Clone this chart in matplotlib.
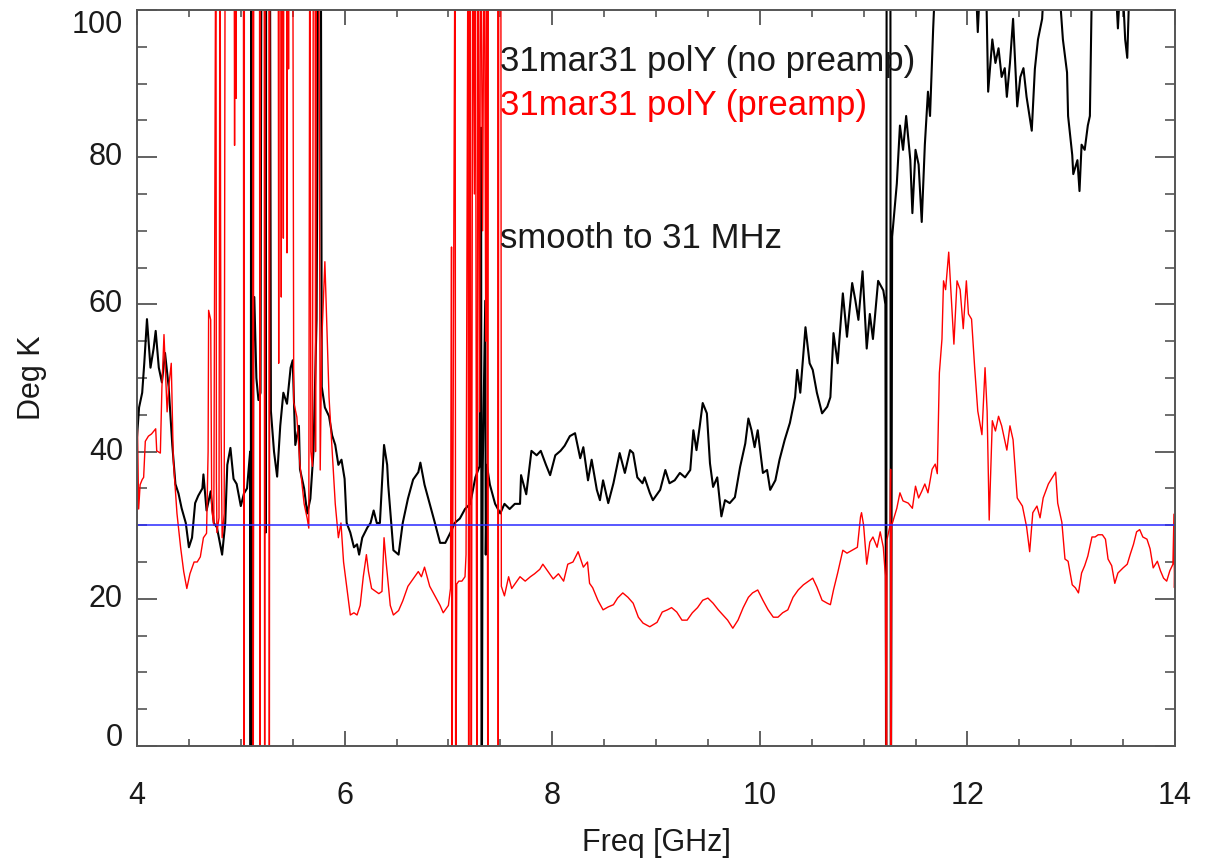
import matplotlib
matplotlib.use('Agg')
import matplotlib.pyplot as plt
from matplotlib.ticker import MultipleLocator

plt.rcParams['font.family'] = ['Liberation Sans', 'DejaVu Sans']

# 31mar31 polY, no preamp (GHz, K); values beyond the frame are RFI spikes
nopre = [
    (4.00, 42), (4.02, 46), (4.05, 48), (4.07, 52), (4.096, 58), (4.13, 51.4), (4.16, 54),
    (4.18, 56.4), (4.21, 51.4), (4.24, 49.4), (4.27, 53.4), (4.305, 48.8), (4.34, 40.9),
    (4.37, 35.6), (4.40, 34.3), (4.43, 32.3), (4.47, 30.3), (4.50, 27.0), (4.53, 28.3),
    (4.56, 33), (4.59, 34), (4.63, 35), (4.64, 36.9), (4.67, 32), (4.71, 34.6), (4.74, 30.3),
    (4.77, 29.7), (4.82, 26), (4.85, 30.3), (4.87, 38.2), (4.90, 40.5), (4.93, 36.3),
    (4.96, 35.6), (5.00, 32.6), (5.03, 34.3), (5.06, 35), (5.09, 40), (5.095, -20),
    (5.10, 120), (5.105, 44), (5.115, -20), (5.12, 55), (5.13, 61), (5.15, 50), (5.17, 47),
    (5.19, 48), (5.20, 120), (5.235, 120), (5.24, 29), (5.245, 120), (5.28, 120),
    (5.29, 45.5), (5.32, 40), (5.35, 36.6), (5.38, 43.5), (5.41, 48), (5.445, 46.5),
    (5.48, 51.4), (5.50, 52.4), (5.525, 40.9), (5.56, 43.5), (5.57, 37.6), (5.61, 35),
    (5.64, 31.6), (5.67, 33.6), (5.70, 40), (5.73, 58), (5.75, 120), (5.77, 120),
    (5.78, 48.8), (5.81, 46), (5.85, 44.8), (5.88, 42.2), (5.91, 40.9), (5.94, 38.2),
    (5.97, 38.9), (6.00, 36.3), (6.02, 30.3), (6.055, 29), (6.09, 27), (6.12, 27.4),
    (6.14, 26), (6.17, 28.3), (6.22, 29.7), (6.25, 30.3), (6.28, 32), (6.31, 30.3),
    (6.34, 30.3), (6.38, 40.9), (6.41, 38.2), (6.42, 35.5), (6.47, 26.6), (6.52, 26),
    (6.56, 30.3), (6.61, 33.6), (6.66, 36.2), (6.71, 37.2), (6.73, 38.5), (6.77, 35.5),
    (6.82, 32.9), (6.87, 30.3), (6.92, 27.6), (6.97, 27.6), (7.02, 29), (7.06, 30.3),
    (7.11, 30.9), (7.16, 32.2), (7.21, 32.9), (7.26, 36.5), (7.30, 38), (7.315, 84),
    (7.32, -20), (7.33, 37), (7.355, 60.5), (7.36, 26), (7.37, 38.2), (7.40, 35.5),
    (7.45, 32.9), (7.50, 31.6), (7.54, 32.9), (7.59, 32.2), (7.64, 32.9), (7.69, 32.9),
    (7.70, 36.8), (7.75, 34.2), (7.80, 40.1), (7.85, 39.5), (7.89, 40.1), (7.94, 38.2),
    (7.98, 36.8), (8.03, 39.5), (8.08, 40.1), (8.12, 40.8), (8.17, 42.1), (8.22, 42.5),
    (8.27, 39.1), (8.30, 40.6), (8.345, 36.1), (8.38, 38.9), (8.43, 34.8), (8.46, 33.4),
    (8.49, 36.1), (8.54, 33), (8.59, 35.7), (8.65, 39.8), (8.70, 37.1), (8.75, 40.2),
    (8.78, 39.8), (8.82, 36.5), (8.87, 35.7), (8.89, 36.5), (8.94, 34.4), (8.97, 33.4),
    (9.04, 34.8), (9.09, 37.5), (9.13, 35.7), (9.18, 36.1), (9.23, 37.1), (9.28, 36.5),
    (9.33, 37.5), (9.36, 42.9), (9.39, 40.2), (9.42, 43.3), (9.45, 46.6), (9.49, 45.2),
    (9.52, 38.4), (9.55, 35.2), (9.59, 36.5), (9.63, 31.2), (9.665, 33.4), (9.71, 33),
    (9.76, 33.8), (9.81, 37.9), (9.86, 41.1), (9.89, 44.5), (9.92, 42.9), (9.95, 40.6),
    (9.98, 42.9), (10.03, 37.1), (10.07, 37.5), (10.10, 34.8), (10.15, 36.1), (10.19, 38.9),
    (10.24, 41.6), (10.29, 43.9), (10.34, 47.4), (10.36, 51.1), (10.39, 48), (10.44, 56.9),
    (10.48, 52), (10.51, 51.1), (10.55, 48), (10.60, 45.2), (10.65, 46.1), (10.68, 47.4),
    (10.71, 56.1), (10.75, 52), (10.80, 61.5), (10.84, 55.6), (10.89, 62.9), (10.92, 60.6),
    (10.95, 57.9), (10.99, 64.5), (11.03, 54), (11.06, 58.7), (11.09, 55.3), (11.14, 63.2),
    (11.19, 61.9), (11.21, 60), (11.218, -20), (11.222, 120), (11.258, 120), (11.262, -20),
    (11.275, 69.2), (11.32, 76.4), (11.35, 84.3), (11.38, 81), (11.41, 85.6), (11.45, 79.6),
    (11.47, 72.4), (11.50, 81), (11.53, 79), (11.56, 71.2), (11.59, 81.7), (11.62, 88.9),
    (11.64, 85.6), (11.67, 97.4), (11.69, 104), (11.80, 110), (12.00, 110), (12.08, 104),
    (12.10, 97), (12.12, 103), (12.18, 104), (12.20, 88.9), (12.24, 96), (12.27, 92.8),
    (12.30, 94.8), (12.33, 90.9), (12.36, 92.1), (12.38, 88.2), (12.41, 92.8), (12.44, 98.8),
    (12.48, 86.9), (12.51, 90.9), (12.54, 92.1), (12.57, 88.2), (12.62, 83.6), (12.65, 92),
    (12.68, 96), (12.72, 98.8), (12.74, 104), (12.85, 110), (12.89, 102), (12.92, 96),
    (12.96, 91.5), (12.97, 85.6), (13.01, 80.3), (13.02, 77.7), (13.06, 79.6), (13.08, 75.4),
    (13.10, 81.7), (13.13, 81), (13.16, 84.3), (13.18, 85.6), (13.20, 104), (13.30, 110),
    (13.43, 103), (13.45, 97.5), (13.47, 103), (13.50, 102), (13.52, 96), (13.54, 93.5),
    (13.56, 103), (13.70, 110), (14.00, 110),
]

# 31mar31 polY, with preamp (GHz, K)
pre = [
    (4.00, 31), (4.005, 43), (4.016, 32.2), (4.03, 35.5), (4.05, 36.2), (4.064, 36.5),
    (4.08, 41.4), (4.11, 42.1), (4.14, 42.4), (4.18, 43.1), (4.19, 40.1), (4.225, 39.8),
    (4.24, 48.7), (4.26, 55.9), (4.29, 45.4), (4.305, 48.7), (4.33, 52), (4.35, 38.8),
    (4.385, 31.6), (4.42, 27), (4.45, 23.7), (4.48, 21.4), (4.51, 23.4), (4.55, 25),
    (4.58, 25), (4.61, 25.7), (4.64, 28.3), (4.67, 28.9), (4.685, 40), (4.69, 59.2),
    (4.71, 57.9), (4.72, 32.2), (4.74, 30), (4.76, 120), (4.765, 36), (4.77, 29),
    (4.79, 31), (4.80, 120), (4.805, 73), (4.81, 43.4), (4.82, 28.3), (4.84, 31.6),
    (4.85, 120), (4.935, 120), (4.94, 81.6), (4.945, 120), (4.955, 88), (4.96, 120),
    (5.025, 120), (5.03, -20), (5.035, 120), (5.115, 120), (5.12, -20), (5.125, 120),
    (5.18, 120), (5.185, -20), (5.19, 120), (5.225, 120), (5.23, -20), (5.235, 120),
    (5.27, 120), (5.275, -20), (5.28, 120), (5.36, 120), (5.365, 52), (5.37, 120),
    (5.385, 120), (5.39, 61), (5.395, 120), (5.405, 120), (5.41, 69), (5.415, 120),
    (5.44, 120), (5.445, 67), (5.45, 120), (5.455, 120), (5.46, 92), (5.465, 120),
    (5.50, 120), (5.51, 46.7), (5.54, 44.7), (5.57, 38.2), (5.61, 32.9), (5.64, 30.9),
    (5.655, 29.6), (5.665, 120), (5.675, 40), (5.69, 38), (5.70, 120), (5.715, 120),
    (5.72, 40), (5.73, 120), (5.75, 120), (5.765, 37.5), (5.78, 55), (5.81, 65.8),
    (5.85, 47.4), (5.88, 40.1), (5.91, 32.9), (5.94, 28.3), (5.965, 30.3), (5.99, 25),
    (6.02, 21.7), (6.055, 17.8), (6.09, 18.1), (6.12, 17.8), (6.15, 19.1), (6.18, 23),
    (6.21, 26), (6.23, 23.7), (6.26, 21.4), (6.30, 21), (6.33, 20.7), (6.36, 21),
    (6.38, 28.3), (6.40, 25), (6.44, 19.1), (6.47, 17.8), (6.52, 18.4), (6.56, 19.7),
    (6.61, 21.7), (6.66, 22.7), (6.71, 23.7), (6.74, 23), (6.77, 24.3), (6.82, 21.7),
    (6.87, 20.4), (6.92, 19.1), (6.95, 18.1), (7.00, 19.1), (7.02, 21.4), (7.03, 67.8),
    (7.035, -20), (7.04, 21), (7.065, 120), (7.07, -20), (7.08, 22), (7.10, 22.4),
    (7.13, 22.4), (7.16, 23), (7.17, 26), (7.19, 120), (7.195, -20), (7.21, 120),
    (7.22, -20), (7.235, 120), (7.25, 75), (7.26, 120), (7.275, -20), (7.285, 120),
    (7.30, 45.4), (7.31, 120), (7.33, 70), (7.345, 120), (7.36, 55), (7.37, 120),
    (7.38, -20), (7.385, 120), (7.475, 120), (7.48, -20), (7.485, 120), (7.505, 120),
    (7.51, 21.7), (7.54, 20.4), (7.58, 23), (7.61, 21.4), (7.66, 22.4), (7.69, 23),
    (7.74, 22.4), (7.79, 23), (7.83, 23.4), (7.88, 24), (7.91, 24.7), (7.96, 23.7),
    (8.01, 22.7), (8.06, 23.4), (8.11, 22.4), (8.15, 24.7), (8.20, 25), (8.25, 26.4),
    (8.30, 24.3), (8.34, 25), (8.36, 22.1), (8.39, 21.5), (8.44, 19.8), (8.49, 18.5),
    (8.54, 18.9), (8.59, 19.2), (8.63, 20.1), (8.68, 20.8), (8.73, 20.2), (8.78, 19.4),
    (8.83, 17.5), (8.875, 16.7), (8.94, 16.2), (9.01, 16.8), (9.06, 18.2), (9.11, 18.5),
    (9.15, 18.8), (9.20, 18.2), (9.25, 17.1), (9.30, 17.1), (9.35, 18.1), (9.40, 18.8),
    (9.45, 19.8), (9.50, 20.1), (9.55, 19.4), (9.60, 18.5), (9.645, 17.8), (9.69, 17.1),
    (9.74, 16), (9.79, 17.1), (9.84, 18.8), (9.89, 20.2), (9.93, 20.8), (9.98, 21.2),
    (10.03, 19.8), (10.08, 18.5), (10.13, 17.5), (10.175, 17.5), (10.22, 18.1),
    (10.27, 18.5), (10.32, 20.2), (10.37, 21.2), (10.42, 21.9), (10.46, 22.3), (10.51, 22.8),
    (10.55, 21.6), (10.60, 19.8), (10.65, 19.4), (10.68, 19.2), (10.71, 21.2), (10.75, 23.5),
    (10.80, 26.6), (10.84, 26.2), (10.89, 26.6), (10.94, 27.0), (10.97, 31.1), (10.98, 31.7),
    (11.00, 30), (11.03, 24.7), (11.06, 27.7), (11.09, 28.4), (11.13, 27), (11.16, 29.1),
    (11.19, 27), (11.21, 23.1), (11.22, -20), (11.225, 28), (11.255, 30), (11.26, 37.6),
    (11.265, -20), (11.27, 30), (11.28, 30.4), (11.32, 32.3), (11.35, 34.4), (11.38, 33.3),
    (11.43, 33), (11.47, 32.3), (11.50, 35.3), (11.53, 33.7), (11.56, 34.6), (11.59, 35.6),
    (11.62, 34.4), (11.66, 37.6), (11.69, 38.3), (11.71, 37), (11.73, 50.7), (11.755, 55.3),
    (11.77, 63.2), (11.79, 62), (11.82, 67.1), (11.84, 62), (11.87, 54.6), (11.90, 63.2),
    (11.93, 62), (11.96, 56.7), (11.99, 63.2), (12.01, 58.7), (12.04, 58), (12.07, 51.4),
    (12.10, 45.5), (12.14, 42.3), (12.17, 51.4), (12.19, 45.5), (12.21, 30.7), (12.24, 44.2),
    (12.27, 42.8), (12.30, 44.8), (12.33, 43.5), (12.38, 40.2), (12.41, 43.5), (12.44, 41.6),
    (12.48, 33.7), (12.53, 32.6), (12.57, 29.8), (12.60, 26.4), (12.63, 31.7), (12.67, 32.6),
    (12.70, 31), (12.73, 33.7), (12.78, 35.6), (12.81, 36.3), (12.85, 37.2), (12.87, 33),
    (12.91, 30.4), (12.94, 25.4), (12.97, 25.1), (13.01, 21.9), (13.04, 21.5), (13.07, 20.8),
    (13.10, 23.5), (13.13, 24.5), (13.16, 25.8), (13.20, 28.4), (13.23, 28.4), (13.26, 28.7),
    (13.30, 28.7), (13.33, 28.1), (13.355, 25.4), (13.39, 24.5), (13.42, 22.1), (13.45, 23.5),
    (13.50, 24.2), (13.54, 24.7), (13.57, 26.1), (13.60, 27.4), (13.63, 29.1), (13.66, 29.4),
    (13.69, 28.4), (13.73, 28.1), (13.76, 26.8), (13.79, 24.2), (13.83, 25.1), (13.86, 23.8),
    (13.89, 22.8), (13.92, 22.4), (13.95, 23.8), (13.98, 24.7), (13.99, 31.5), (13.995, 21.5),
    (14.00, 25.5),
]

ref_level = 30.0
yticks = [0, 20, 40, 60, 80, 100]
labels = ['31mar31 polY (no preamp)', '31mar31 polY (preamp)', 'smooth to 31 MHz']

nopre_f, nopre_k = zip(*nopre)
pre_f, pre_k = zip(*pre)

txt = '#1a1a1a'
fig = plt.figure(figsize=(12.1, 8.65), dpi=100, facecolor='w')
ax = fig.add_axes([137/1210, 119/865, 1038/1210, 736/865])

ax.plot(nopre_f, nopre_k, color='black', linewidth=1.5)
ax.plot(pre_f, pre_k, color='red', linewidth=1.0)
ax.axhline(ref_level, color='#2a2aff', linewidth=1.1)

ax.set_xlim(4, 14)
ax.set_ylim(0, 100)
ax.xaxis.set_major_locator(MultipleLocator(2))
ax.xaxis.set_minor_locator(MultipleLocator(0.5))
ax.set_yticks(yticks)
ax.yaxis.set_minor_locator(MultipleLocator(5))
for s in ax.spines.values():
    s.set_color('#555555')
    s.set_linewidth(1.4)
ax.tick_params(which='both', direction='in', top=True, right=True, colors='#555555',
               labelcolor=txt, labelsize=22)
ax.tick_params(axis='x', which='major', length=10.8, width=1.3, pad=25.5)
ax.tick_params(axis='x', which='minor', length=5.2, width=1.2)
ax.tick_params(axis='y', which='major', length=14.5, width=1.3, labelleft=False)
ax.tick_params(axis='y', which='minor', length=7.2, width=1.2)

# y tick labels: IDL keeps the end labels inside the axis range
ytr = ax.get_yaxis_transform()
for v in yticks:
    va = 'baseline' if v == yticks[0] else ('top' if v == yticks[-1] else 'center')
    ax.text(-0.0135, v, str(v), transform=ytr, ha='right', va=va, fontsize=22, color=txt)

ax.set_xlabel('Freq [GHz]', fontsize=22, color=txt)
ax.xaxis.set_label_coords(0.5, -0.112)
ax.set_ylabel('Deg K', fontsize=22, color=txt)
ax.yaxis.set_label_coords(-0.087, 0.5)

ax.text(7.5, 93, labels[0], fontsize=25, color=txt, va='center')
ax.text(7.5, 87, labels[1], fontsize=25, color='red', va='center')
ax.text(7.5, 69, labels[2], fontsize=25, color=txt, va='center')

plt.savefig('out.png', dpi=100)
